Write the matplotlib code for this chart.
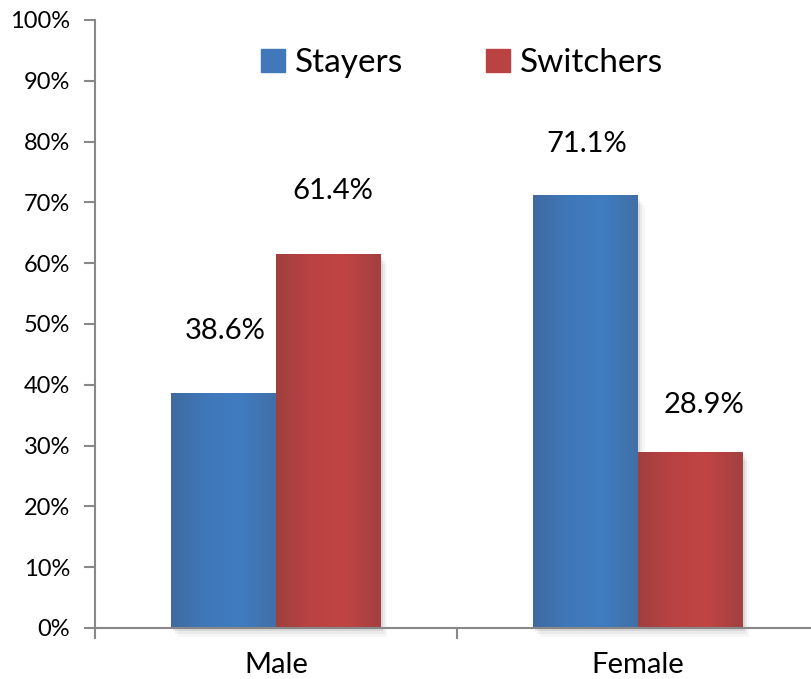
import numpy as np
import matplotlib.pyplot as plt
from matplotlib.colors import LinearSegmentedColormap
from matplotlib.patches import Rectangle

plt.rcParams['font.family'] = ['Lato', 'DejaVu Sans']

groups = ["Male", "Female"]
series = ["Stayers", "Switchers"]
stayers = [38.6, 71.1]
switchers = [61.4, 28.9]
yticks = [0, 10, 20, 30, 40, 50, 60, 70, 80, 90, 100]

# hand-placed value labels: (dx, dy) offset in points from each bar top
stayer_offsets = [(1, 45), (1, 37)]
switcher_offsets = [(3, 46), (10, 34)]

# side-to-side shading for each series (dark edge, light middle, dark edge)
blue_cmap = LinearSegmentedColormap.from_list(
    "blue", ["#3f6aa0", "#4078ba", "#3f7cc0", "#4270a8"])
red_cmap = LinearSegmentedColormap.from_list(
    "red", ["#a13f3f", "#bb4242", "#c04444", "#a34040"])
shade = np.linspace(0, 1, 64).reshape(1, -1)

fig = plt.figure(figsize=(8.12, 6.79), dpi=100)
ax = fig.add_axes([95 / 812, 51 / 679, 724 / 812, 608 / 679])

width = 0.29
x = np.arange(len(groups))


def gradient_bar(xc, h, cmap, offset):
    x0, x1 = xc - width / 2, xc + width / 2
    # soft drop shadow on the right and bottom
    for k, a in enumerate([0.07, 0.05, 0.03]):
        d = 0.006 * (k + 1)
        ax.add_patch(Rectangle((x0 + d, -0.5 * (k + 1)), width, h,
                               color='black', alpha=a, lw=0, zorder=1,
                               clip_on=False))
    ax.imshow(shade, cmap=cmap, aspect='auto', extent=(x0, x1, 0, h),
              interpolation='bicubic', zorder=2)
    ax.annotate(f"{h:.1f}%", (xc, h), xytext=offset,
                textcoords='offset points', ha='center', va='center',
                fontsize=21, color='black')


for i in range(len(groups)):
    gradient_bar(x[i] - width / 2, stayers[i], blue_cmap, stayer_offsets[i])
    gradient_bar(x[i] + width / 2, switchers[i], red_cmap, switcher_offsets[i])

ax.set_xlim(-0.5, 1.5)
ax.set_ylim(0, 100)
ax.set_yticks(yticks)
ax.set_yticklabels([f"{v}%" for v in yticks], fontsize=17)
ax.set_xticks([-0.5, 0.5, 1.5])
ax.set_xticklabels([])
ax.set_xticks(x, minor=True)
ax.set_xticklabels(groups, minor=True, fontsize=21)
ax.tick_params(axis='x', which='minor', length=0, pad=17)
ax.tick_params(axis='x', which='major', length=8, color='#888888',
               direction='out', width=1.5)
ax.tick_params(axis='y', length=8, color='#888888', width=1.5, pad=10)

for s in ['top', 'right']:
    ax.spines[s].set_visible(False)
for s in ['left', 'bottom']:
    ax.spines[s].set_color('#888888')
    ax.spines[s].set_linewidth(1.5)

handles = [Rectangle((0, 0), 1, 1, color="#4078ba"),
           Rectangle((0, 0), 1, 1, color="#bb4242")]
fig.legend(handles, series, loc='center', bbox_to_anchor=(462 / 812, 1 - 63 / 679),
           ncol=2, frameon=False, fontsize=24, handlelength=0.7,
           handleheight=0.7, handletextpad=0.3, columnspacing=2.5)

fig.savefig("out.png", dpi=100)
